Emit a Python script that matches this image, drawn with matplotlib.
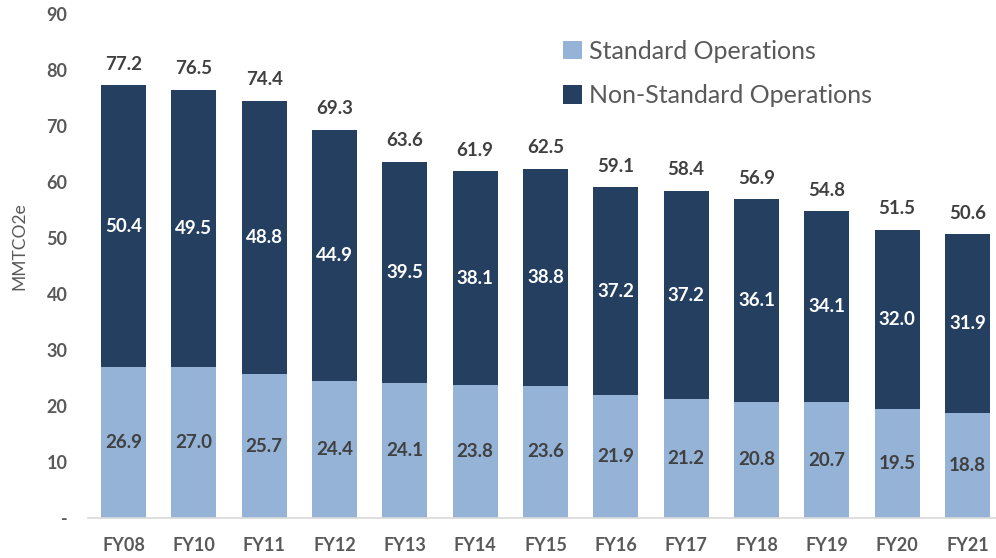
import matplotlib
matplotlib.use("Agg")
import matplotlib.pyplot as plt
import numpy as np

plt.rcParams['font.family'] = ['Lato', 'DejaVu Sans']

years = ["FY08", "FY10", "FY11", "FY12", "FY13", "FY14", "FY15", "FY16", "FY17", "FY18", "FY19", "FY20", "FY21"]
standard = [26.9, 27.0, 25.7, 24.4, 24.1, 23.8, 23.6, 21.9, 21.2, 20.8, 20.7, 19.5, 18.8]
non_standard = [50.4, 49.5, 48.8, 44.9, 39.5, 38.1, 38.8, 37.2, 37.2, 36.1, 34.1, 32.0, 31.9]
totals = [77.2, 76.5, 74.4, 69.3, 63.6, 61.9, 62.5, 59.1, 58.4, 56.9, 54.8, 51.5, 50.6]
yticks = [0, 10, 20, 30, 40, 50, 60, 70, 80, 90]
ytick_labels = ["-", "10", "20", "30", "40", "50", "60", "70", "80", "90"]

c_std = "#95B3D7"
c_non = "#243F60"
grey = "#595959"
dark = "#404040"

fig = plt.figure(figsize=(9.96, 5.58), dpi=100)
ax = fig.add_axes([88.3/996, 40/558, 914.3/996, 504/558])

x = np.arange(len(years))
w = 0.64
ax.bar(x, standard, w, color=c_std, label="Standard Operations")
ax.bar(x, non_standard, w, bottom=standard, color=c_non, label="Non-Standard Operations")

for xi, s, n, t in zip(x, standard, non_standard, totals):
    ax.text(xi, s/2, f"{s:.1f}", ha='center', va='center', color=dark, fontsize=13.5, fontweight='bold')
    ax.text(xi, s + n/2, f"{n:.1f}", ha='center', va='center', color='white', fontsize=13.5, fontweight='bold')
    ax.annotate(f"{t:.1f}", (xi, s + n), xytext=(0, 9), textcoords='offset points',
                ha='center', va='bottom', color=dark, fontsize=13.5, fontweight='bold')

ax.set_xlim(-0.5, len(years) - 0.5)
ax.set_ylim(0, 90)
ax.set_yticks(yticks)
ax.set_yticklabels(ytick_labels)
ax.set_xticks(x)
ax.set_xticklabels(years)
for lab in ax.get_xticklabels() + ax.get_yticklabels():
    lab.set_fontweight('bold')
    lab.set_color(grey)
    lab.set_fontsize(13)
ax.tick_params(axis='both', length=0)
ax.tick_params(axis='x', pad=14)
ax.tick_params(axis='y', pad=15)
for sp in ['top', 'right', 'left']:
    ax.spines[sp].set_visible(False)
ax.spines['bottom'].set_color("#D9D9D9")
ax.spines['bottom'].set_linewidth(1.2)

fig.text(19/996, 1 - 246/558, "MMTCO2e", rotation=90, ha='center', va='center', color=grey, fontsize=12.5)

leg = ax.legend(loc='upper left', frameon=False, fontsize=18, labelcolor=grey,
                handlelength=0.75, handleheight=0.75, handletextpad=0.3, labelspacing=0.85,
                borderaxespad=0, borderpad=0)
leg.set_bbox_to_anchor((563/996, 1 - 40/558), transform=fig.transFigure)

fig.savefig("out.png", dpi=100)
